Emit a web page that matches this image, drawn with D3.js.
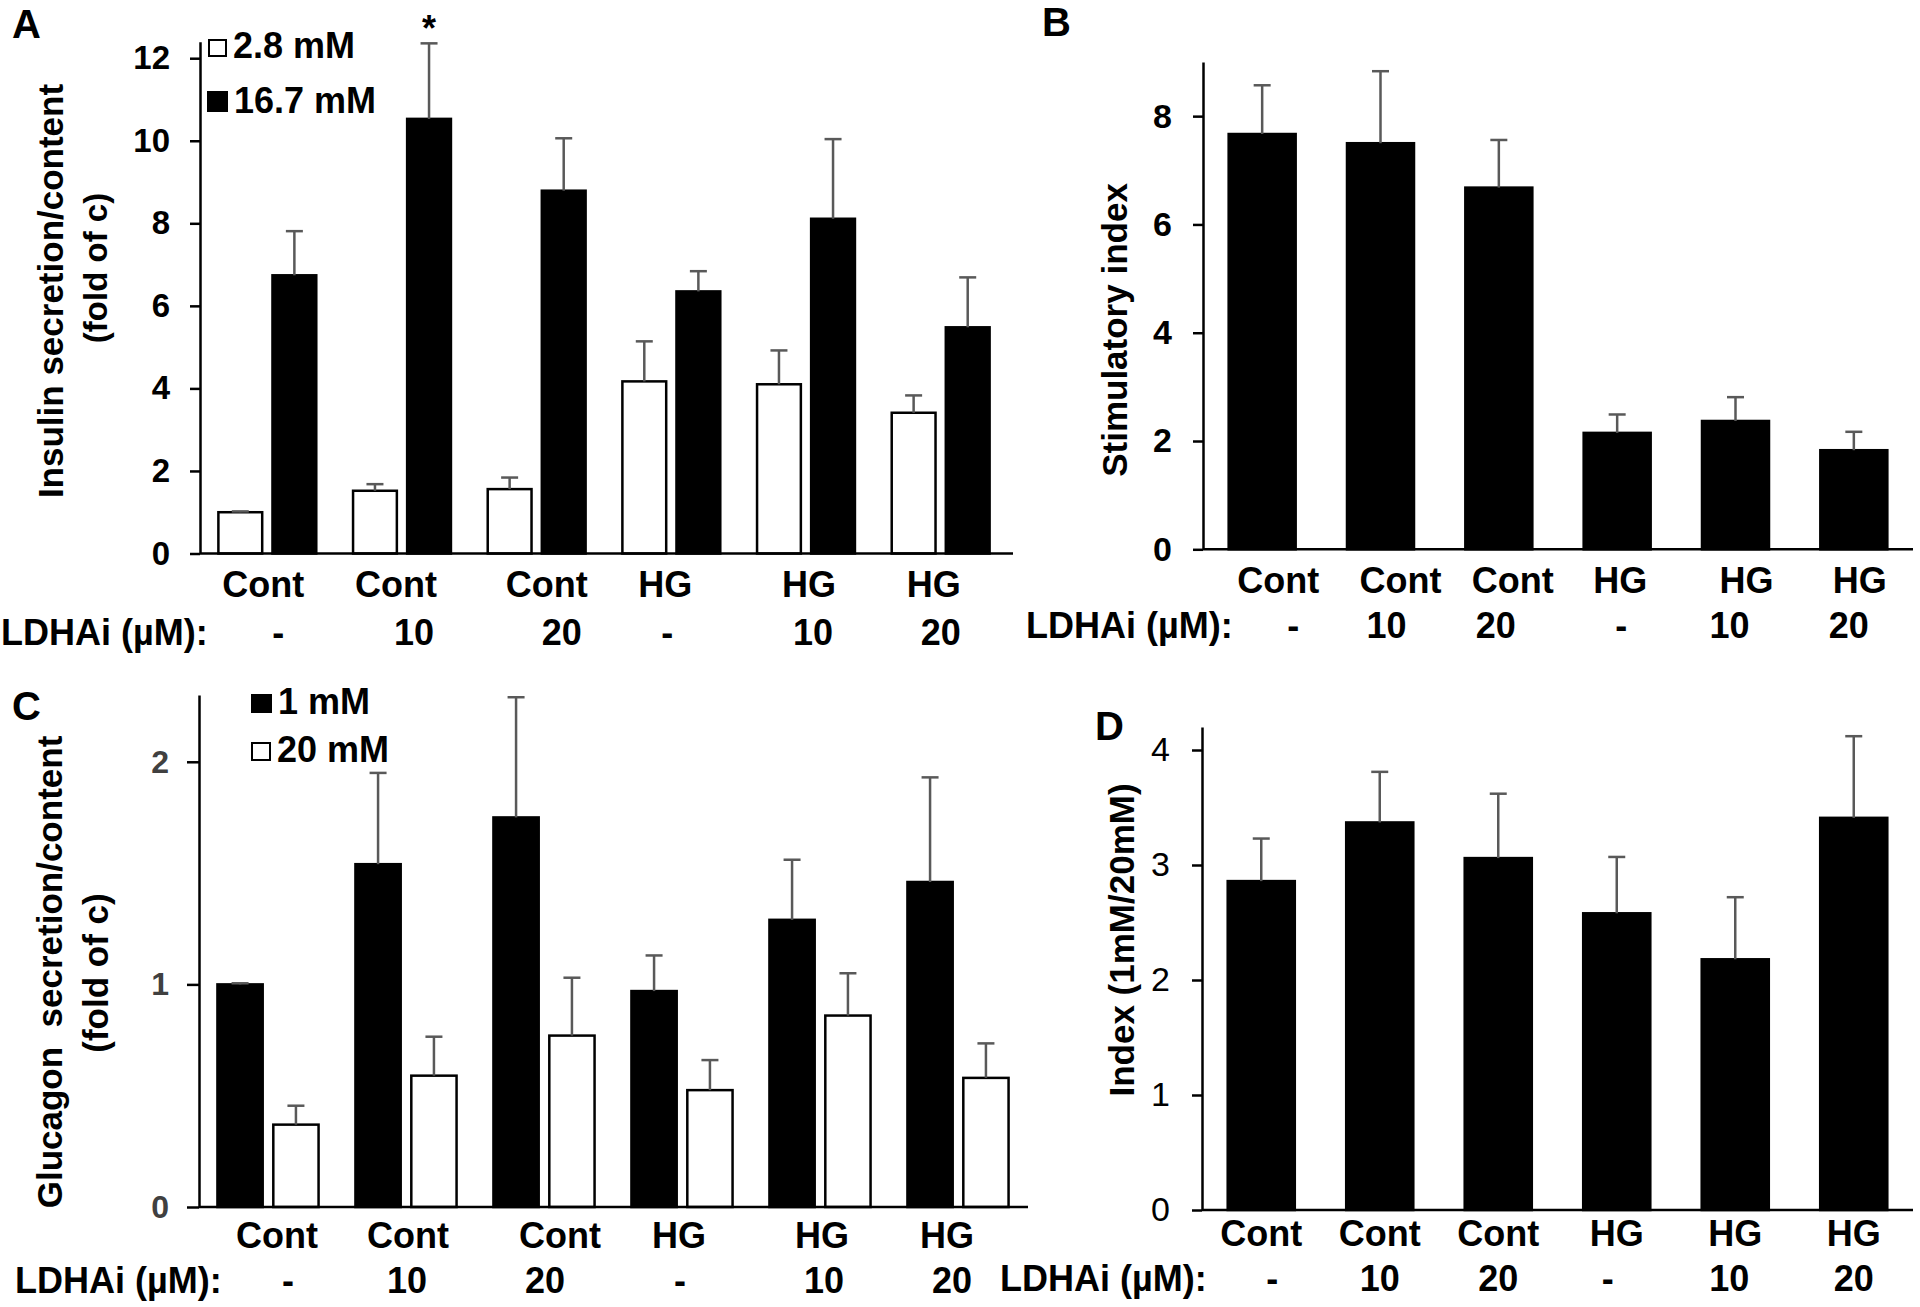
<!DOCTYPE html>
<html>
<head>
<meta charset="utf-8">
<script src="https://cdn.jsdelivr.net/npm/d3@7"></script>
<style>
  html, body { margin: 0; padding: 0; background: #fff; }
  svg { display: block; font-family: "Liberation Sans", Arial, Helvetica, sans-serif; }
</style>
</head>
<body>
<svg id="fig" width="1920" height="1307"></svg>
<script>
// Shared categories
const treatments = ["Cont", "Cont", "Cont", "HG", "HG", "HG"];
const ldhaDoses = ["-", "10", "20", "-", "10", "20"];
const doseLabel = "LDHAi (µM):";

// A: insulin secretion / content (fold of c)
const insulinLowMean = [1.0, 1.52, 1.56, 4.17, 4.10, 3.41];   // 2.8 mM
const insulinLowSem = [0.02, 0.16, 0.28, 0.97, 0.82, 0.42];
const insulinHighMean = [6.74, 10.53, 8.79, 6.35, 8.11, 5.48]; // 16.7 mM
const insulinHighSem = [1.07, 1.83, 1.27, 0.49, 1.93, 1.21];
const insulinTicks = [0, 2, 4, 6, 8, 10, 12];

// B: stimulatory index
const stimMean = [7.67, 7.50, 6.68, 2.15, 2.37, 1.83];
const stimSem = [0.90, 1.33, 0.88, 0.34, 0.44, 0.34];
const stimTicks = [0, 2, 4, 6, 8];

// C: glucagon secretion / content (fold of c)
const glucLowMean = [1.0, 1.54, 1.75, 0.97, 1.29, 1.46];      // 1 mM
const glucLowSem = [0.005, 0.41, 0.54, 0.16, 0.27, 0.47];
const glucHighMean = [0.37, 0.59, 0.77, 0.525, 0.86, 0.58];   // 20 mM
const glucHighSem = [0.085, 0.175, 0.26, 0.135, 0.19, 0.155];
const glucTicks = [0, 1, 2];

// D: index (1mM/20mM)
const indexMean = [2.86, 3.37, 3.06, 2.58, 2.18, 3.41];
const indexSem = [0.37, 0.44, 0.56, 0.49, 0.54, 0.71];
const indexTicks = [0, 1, 2, 3, 4];

const svg = d3.select("#fig");
const ERR_COLOR = "#595959";
const LINE_W = 2.5;

function drawPanel(cfg) {
  const g = svg.append("g");

  const x0 = d3.scaleBand().domain(d3.range(treatments.length)).range(cfg.xRange);
  const x1 = d3.scaleBand()
    .domain(cfg.series.map((s) => s.key))
    .range([0, x0.bandwidth()])
    .paddingInner(cfg.padInner)
    .paddingOuter(cfg.padOuter);
  const y = d3.scaleLinear().domain(cfg.yDomain).range(cfg.yRange);

  // bars + error bars, one series at a time
  cfg.series.forEach((s) => {
    const rows = s.mean.map((m, i) => ({ i, m, e: s.sem[i] }));
    const bx = (d) => x0(d.i) + x1(s.key);

    g.append("g").selectAll("rect").data(rows).join("rect")
      .attr("x", bx)
      .attr("y", (d) => y(d.m))
      .attr("width", x1.bandwidth())
      .attr("height", (d) => y(0) - y(d.m))
      .attr("fill", s.fill)
      .attr("stroke", "#000")
      .attr("stroke-width", LINE_W);

    const err = g.append("g").attr("stroke", ERR_COLOR).attr("stroke-width", LINE_W);
    err.selectAll("line.v").data(rows).join("line").attr("class", "v")
      .attr("x1", (d) => bx(d) + x1.bandwidth() / 2)
      .attr("x2", (d) => bx(d) + x1.bandwidth() / 2)
      .attr("y1", (d) => y(d.m))
      .attr("y2", (d) => y(d.m + d.e));
    err.selectAll("line.cap").data(rows).join("line").attr("class", "cap")
      .attr("x1", (d) => bx(d) + x1.bandwidth() / 2 - 8.5)
      .attr("x2", (d) => bx(d) + x1.bandwidth() / 2 + 8.5)
      .attr("y1", (d) => y(d.m + d.e))
      .attr("y2", (d) => y(d.m + d.e));
  });

  // x axis: plain baseline, no ticks
  g.append("line")
    .attr("x1", cfg.xRange[0]).attr("x2", cfg.xAxisEnd)
    .attr("y1", y(0)).attr("y2", y(0))
    .attr("stroke", "#000").attr("stroke-width", LINE_W);

  // y axis
  const yAxis = g.append("g")
    .attr("transform", `translate(${cfg.xRange[0]},0)`)
    .call(d3.axisLeft(y)
      .tickValues(cfg.ticks)
      .tickSize(cfg.tickLen)
      .tickSizeOuter(0)
      .tickPadding(cfg.tickPad)
      .tickFormat(d3.format("d")));
  yAxis.select(".domain").attr("stroke", "#000").attr("stroke-width", LINE_W);
  yAxis.selectAll(".tick line").attr("stroke", "#000").attr("stroke-width", LINE_W);
  yAxis.selectAll(".tick text")
    .attr("fill", cfg.tickColor)
    .style("font-size", cfg.tickFont + "px")
    .style("font-weight", cfg.tickWeight);
  yAxis.attr("font-family", null);

  // category labels under the axis (text boxes in the original sit a bit off-centre)
  const cx = (i) => x0(i) + x0.bandwidth() / 2;
  const labelDx = cfg.labelDx || treatments.map(() => 0);
  const doseDx = cfg.doseDx || treatments.map(() => 0);
  g.append("g").selectAll("text").data(treatments).join("text")
    .attr("x", (d, i) => cx(i) + labelDx[i])
    .attr("y", cfg.labelY)
    .attr("text-anchor", "middle")
    .style("font-size", "36px").style("font-weight", "bold")
    .text((d) => d);
  g.append("g").selectAll("text").data(ldhaDoses).join("text")
    .attr("x", (d, i) => cx(i) + doseDx[i])
    .attr("y", cfg.doseY)
    .attr("text-anchor", "middle")
    .style("font-size", "36px").style("font-weight", "bold")
    .text((d) => d);
  g.append("text")
    .attr("x", cfg.doseLabelX).attr("y", cfg.doseY)
    .style("font-size", "36px").style("font-weight", "bold")
    .text(doseLabel);

  // rotated y title
  cfg.title.forEach((t) => {
    g.append("text")
      .attr("transform", `translate(${t.x},${t.cy}) rotate(-90)`)
      .attr("text-anchor", "middle")
      .attr("xml:space", "preserve")
      .style("white-space", "pre")
      .style("font-size", (t.size || 35) + "px").style("font-weight", "bold")
      .text(t.text);
  });

  // panel letter
  g.append("text")
    .attr("x", cfg.letter.x).attr("y", cfg.letter.y)
    .style("font-size", "40px").style("font-weight", "bold")
    .text(cfg.letter.text);

  // legend
  (cfg.legend || []).forEach((l) => {
    g.append("rect")
      .attr("x", l.x).attr("y", l.y).attr("width", l.w).attr("height", l.h)
      .attr("fill", l.fill).attr("stroke", "#000").attr("stroke-width", 2);
    g.append("text")
      .attr("x", l.x + l.w + 7).attr("y", l.y + l.h + 2)
      .style("font-size", "36px").style("font-weight", "bold")
      .text(l.text);
  });

  return { g, x0, x1, y };
}

// Panel A
const A = drawPanel({
  xRange: [200, 1008], xAxisEnd: 1013,
  yDomain: [0, 12.4], yRange: [553.5, 41.7],
  ticks: insulinTicks, tickLen: 10, tickPad: 20, tickFont: 33, tickWeight: "bold", tickColor: "#000",
  padInner: 0.19, padOuter: 0.34,
  series: [
    { key: "2.8 mM", mean: insulinLowMean, sem: insulinLowSem, fill: "#fff" },
    { key: "16.7 mM", mean: insulinHighMean, sem: insulinHighSem, fill: "#000" }
  ],
  labelY: 597, doseY: 645, doseLabelX: 1,
  labelDx: [-4, -6, 10, -6, 3, -7],
  doseDx: [11, 12, 25, -4, 7, 0],
  title: [
    { text: "Insulin secretion/content", x: 63, cy: 291 },
    { text: "(fold of c)", x: 107, cy: 268, size: 33 }
  ],
  letter: { text: "A", x: 12, y: 38 },
  legend: [
    { text: "2.8 mM", x: 209, y: 40, w: 17, h: 16, fill: "#fff" },
    { text: "16.7 mM", x: 208, y: 92, w: 19, h: 19, fill: "#000" }
  ]
});
// significance mark over Cont 10, 16.7 mM
A.g.append("text")
  .attr("x", A.x0(1) + A.x1("16.7 mM") + A.x1.bandwidth() / 2)
  .attr("y", A.y(insulinHighMean[1] + insulinHighSem[1]) - 2)
  .attr("text-anchor", "middle")
  .style("font-size", "36px").style("font-weight", "bold")
  .text("*");

// Panel B
drawPanel({
  xRange: [1203, 1913], xAxisEnd: 1913,
  yDomain: [0, 9], yRange: [549.3, 62],
  ticks: stimTicks, tickLen: 10, tickPad: 21, tickFont: 34, tickWeight: "bold", tickColor: "#000",
  padInner: 0, padOuter: 0.383,
  series: [{ key: "SI", mean: stimMean, sem: stimSem, fill: "#000" }],
  labelY: 593, doseY: 638, doseLabelX: 1026,
  labelDx: [16, 20, 14, 3, 11, 6],
  doseDx: [31, 6, -3, 4, -6, -5],
  title: [{ text: "Stimulatory index", x: 1127, cy: 330 }],
  letter: { text: "B", x: 1042, y: 36 }
});

// Panel C
drawPanel({
  xRange: [199, 1027], xAxisEnd: 1028,
  yDomain: [0, 2.3], yRange: [1207, 695],
  ticks: glucTicks, tickLen: 12, tickPad: 18, tickFont: 32, tickWeight: "bold", tickColor: "#404040",
  padInner: 0.19, padOuter: 0.33,
  series: [
    { key: "1 mM", mean: glucLowMean, sem: glucLowSem, fill: "#000" },
    { key: "20 mM", mean: glucHighMean, sem: glucHighSem, fill: "#fff" }
  ],
  labelY: 1248, doseY: 1293, doseLabelX: 15,
  labelDx: [9, 2, 16, -3, 2, -11],
  doseDx: [20, 1, 1, -2, 4, -6],
  title: [
    { text: "Glucagon  secretion/content", x: 62, cy: 972 },
    { text: "(fold of c)", x: 108, cy: 973 }
  ],
  letter: { text: "C", x: 12, y: 720 },
  legend: [
    { text: "1 mM", x: 252, y: 695, w: 19, h: 17, fill: "#000" },
    { text: "20 mM", x: 252, y: 743, w: 18, h: 17, fill: "#fff" }
  ]
});

// Panel D
drawPanel({
  xRange: [1202, 1913], xAxisEnd: 1913,
  yDomain: [0, 4.2], yRange: [1210, 727],
  ticks: indexTicks, tickLen: 10, tickPad: 22, tickFont: 34, tickWeight: "normal", tickColor: "#000",
  padInner: 0, padOuter: 0.383,
  series: [{ key: "IDX", mean: indexMean, sem: indexSem, fill: "#000" }],
  labelY: 1246, doseY: 1291, doseLabelX: 1000,
  doseDx: [11, 0, 0, -9, -6, 0],
  title: [{ text: "Index (1mM/20mM)", x: 1134, cy: 940 }],
  letter: { text: "D", x: 1095, y: 740 }
});
</script>
</body>
</html>
